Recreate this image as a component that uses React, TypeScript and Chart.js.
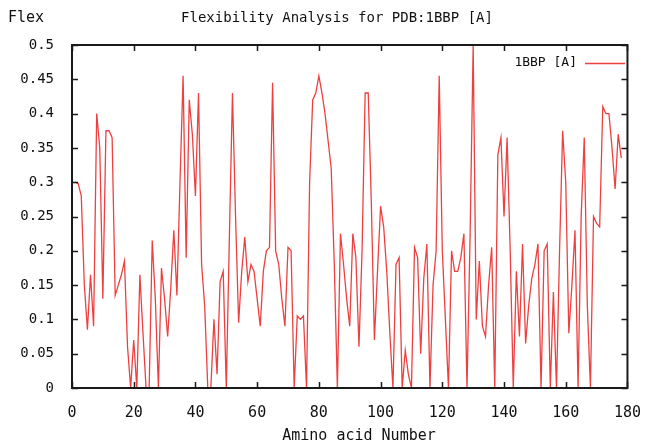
import React, { useEffect, useRef } from "react";
import { Chart, registerables } from "chart.js";

Chart.register(...registerables);

// Amino acid numbers (residues) and flexibility values
const residues: number[] = Array.from({ length: 178 }, (_, i) => i + 1);
const flexValues: number[] = [
  0.30, 0.298, 0.28, 0.15, 0.085, 0.165, 0.09, 0.40, 0.35, 0.13,
  0.375, 0.375, 0.365, 0.135, 0.15, 0.165, 0.185, 0.06, 0.0, 0.07,
  0.0, 0.165, 0.08, 0.0, 0.0, 0.215, 0.13, 0.0, 0.175, 0.13,
  0.075, 0.145, 0.23, 0.135, 0.30, 0.455, 0.19, 0.42, 0.37, 0.28,
  0.43, 0.18, 0.12, 0.0, 0.0, 0.10, 0.02, 0.155, 0.17, 0.0,
  0.22, 0.43, 0.25, 0.095, 0.17, 0.22, 0.155, 0.18, 0.17, 0.13,
  0.09, 0.17, 0.20, 0.205, 0.445, 0.20, 0.18, 0.13, 0.09, 0.205,
  0.20, 0.0, 0.105, 0.10, 0.105, 0.0, 0.30, 0.42, 0.43, 0.455,
  0.43, 0.40, 0.36, 0.32, 0.18, 0.0, 0.225, 0.18, 0.13, 0.09,
  0.225, 0.19, 0.06, 0.20, 0.43, 0.43, 0.27, 0.07, 0.17, 0.265,
  0.235, 0.17, 0.08, 0.0, 0.18, 0.19, 0.0, 0.055, 0.02, 0.0,
  0.205, 0.19, 0.05, 0.16, 0.21, 0.0, 0.15, 0.20, 0.455, 0.20,
  0.10, 0.0, 0.20, 0.17, 0.17, 0.19, 0.225, 0.0, 0.22, 0.5,
  0.10, 0.185, 0.09, 0.075, 0.15, 0.205, 0.0, 0.34, 0.365, 0.25,
  0.365, 0.20, 0.0, 0.17, 0.075, 0.21, 0.065, 0.12, 0.16, 0.18,
  0.21, 0.0, 0.20, 0.21, 0.0, 0.14, 0.0, 0.20, 0.375, 0.30,
  0.08, 0.15, 0.23, 0.0, 0.25, 0.365, 0.12, 0.0, 0.25, 0.24,
  0.235, 0.41, 0.40, 0.40, 0.35, 0.29, 0.37, 0.335,
];

const xTicks: number[] = [0, 20, 40, 60, 80, 100, 120, 140, 160, 180];
const yTicks: number[] = [0, 0.05, 0.1, 0.15, 0.2, 0.25, 0.3, 0.35, 0.4, 0.45, 0.5];

const seriesName = "1BBP [A]";
const chartTitle = "Flexibility Analysis for PDB:1BBP [A]";
const yTitle = "Flex";
const xTitle = "Amino acid Number";

const LINE_COLOR = "#ee4040";
const FONT = "'DejaVu Sans Mono', 'Liberation Mono', monospace";

const gnuplotFrame = {
  id: "gnuplotFrame",
  afterDraw(chart: any) {
    const { ctx, chartArea } = chart;
    const { left, right, top, bottom } = chartArea;
    const xs = chart.scales.x;
    const ys = chart.scales.y;
    ctx.save();
    // border
    ctx.strokeStyle = "#1a1a1a";
    ctx.lineWidth = 2;
    ctx.strokeRect(left, top, right - left, bottom - top);
    // ticks
    ctx.lineWidth = 1.5;
    ctx.beginPath();
    for (const v of yTicks) {
      const y = Math.round(ys.getPixelForValue(v)) + 0.5;
      ctx.moveTo(left, y);
      ctx.lineTo(left + 6, y);
      ctx.moveTo(right, y);
      ctx.lineTo(right - 6, y);
    }
    for (const v of xTicks) {
      const x = Math.round(xs.getPixelForValue(v)) + 0.5;
      ctx.moveTo(x, bottom);
      ctx.lineTo(x, bottom - 6);
      ctx.moveTo(x, top);
      ctx.lineTo(x, top + 6);
    }
    ctx.stroke();
    // texts
    ctx.fillStyle = "#111";
    ctx.textBaseline = "middle";
    ctx.font = `15px ${FONT}`;
    ctx.textAlign = "left";
    ctx.fillText(yTitle, 8, 18);
    ctx.font = `14px ${FONT}`;
    ctx.textAlign = "center";
    ctx.fillText(chartTitle, 337, 18);
    ctx.font = `15px ${FONT}`;
    ctx.fillText(xTitle, 359, 436);
    // legend
    ctx.font = `13px ${FONT}`;
    ctx.textAlign = "right";
    ctx.fillText(seriesName, 577, 63);
    ctx.strokeStyle = LINE_COLOR;
    ctx.lineWidth = 1.3;
    ctx.beginPath();
    ctx.moveTo(585, 63.5);
    ctx.lineTo(625, 63.5);
    ctx.stroke();
    ctx.restore();
  },
};

export default function App() {
  const ref = useRef<HTMLCanvasElement | null>(null);
  useEffect(() => {
    if (!ref.current) return;
    const points = residues.map((r, i) => ({ x: r, y: flexValues[i] }));
    const chart = new Chart(ref.current, {
      type: "line",
      data: {
        datasets: [
          {
            label: seriesName,
            data: points,
            borderColor: LINE_COLOR,
            borderWidth: 1.3,
            pointRadius: 0,
            tension: 0,
            fill: false,
          },
        ],
      },
      options: {
        animation: false,
        responsive: false,
        layout: { padding: { top: 45, right: 18, left: 0, bottom: 0 } },
        plugins: {
          legend: { display: false },
          title: { display: false },
          tooltip: { enabled: false },
        },
        scales: {
          x: {
            type: "linear",
            min: 0,
            max: 180,
            grid: { display: false },
            border: { display: false },
            afterBuildTicks: (s: any) => {
              s.ticks = xTicks.map((v) => ({ value: v }));
            },
            afterFit: (s: any) => {
              s.height = 56;
            },
            ticks: {
              padding: 8,
              color: "#111",
              font: { family: FONT, size: 15 },
              maxRotation: 0,
              callback: (v: any) => String(v),
            },
          },
          y: {
            type: "linear",
            min: 0,
            max: 0.5,
            grid: { display: false },
            border: { display: false },
            afterBuildTicks: (s: any) => {
              s.ticks = yTicks.map((v) => ({ value: v }));
            },
            afterFit: (s: any) => {
              s.width = 72;
            },
            ticks: {
              padding: 10,
              color: "#111",
              font: { family: FONT, size: 14 },
              callback: (v: any) => String(Number(Number(v).toFixed(2))),
            },
          },
        },
      },
      plugins: [gnuplotFrame],
    });
    return () => chart.destroy();
  }, []);
  return (
    <div style={{ position: "fixed", left: 0, top: 0, width: 649, height: 444, background: "#fff" }}>
      <canvas ref={ref} width={649} height={444} />
    </div>
  );
}
